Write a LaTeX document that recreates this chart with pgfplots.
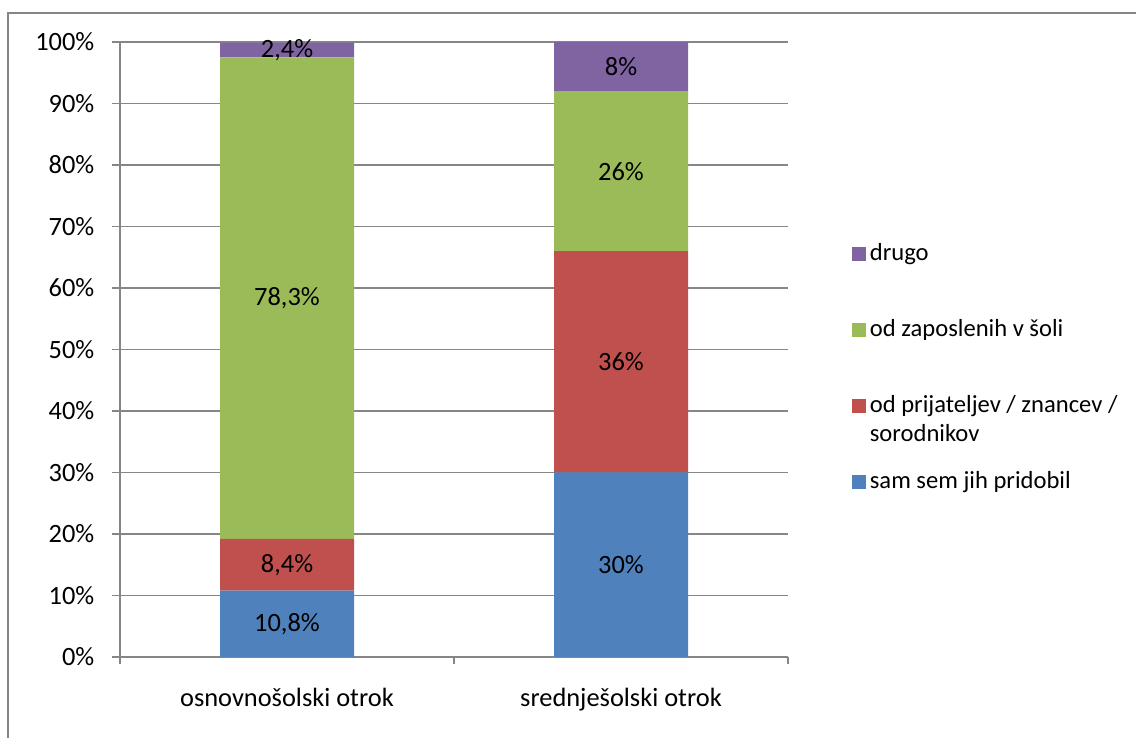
\documentclass[border=0pt]{standalone}
\usepackage{fontspec}
\setmainfont{Carlito}
\usepackage{pgfplots}
\pgfplotsset{compat=1.18}
\definecolor{sBlue}{HTML}{4F81BD}
\definecolor{sRed}{HTML}{C0504D}
\definecolor{sGreen}{HTML}{9BBB59}
\definecolor{sPurple}{HTML}{8064A2}
\definecolor{lineGray}{HTML}{868686}
\newcommand{\chartfont}{\fontsize{13.2pt}{15.5pt}\selectfont}
\newcommand{\legendfont}{\fontsize{12.3pt}{14.5pt}\selectfont}

\begin{document}
\chartfont
\begin{tikzpicture}
\path[use as bounding box] (-60pt,-40.5pt) rectangle (508pt,328.5pt);
% chart frame (only left and top edge visible)
\draw[lineGray, line width=0.75pt] (-56pt,-60pt) -- (-56pt,322pt) -- (540pt,322pt);
\begin{axis}[
  at={(0pt,0pt)}, anchor=south west,
  scale only axis, width=334pt, height=307.5pt,
  ybar stacked, bar width=67pt,
  xmin=-0.5, xmax=1.5, ymin=0, ymax=100,
  axis x line*=bottom, axis y line*=left,
  axis line style={lineGray, line width=0.75pt, -},
  every tick label/.append style={font=\chartfont},
  xtick={-0.5,0.5,1.5}, xticklabels={},
  extra x ticks={0,1},
  extra x tick labels={osnovnošolski otrok, srednješolski otrok},
  extra x tick style={major tick length=0pt, grid=none,
    xticklabel style={anchor=base, yshift=-25pt}},
  ytick={0,10,...,100},
  yticklabels={0\%,10\%,20\%,30\%,40\%,50\%,60\%,70\%,80\%,90\%,100\%},
  yticklabel style={anchor=east, xshift=-4.5pt},
  ymajorgrids, grid style={lineGray, line width=0.75pt},
  tick align=outside, major tick length=3.75pt,
  tick style={lineGray, line width=0.75pt},
  reverse legend,
  legend cell align=left,
  legend image code/.code={\fill[#1] (0pt,-3.5pt) rectangle (7pt,3.5pt);},
  legend style={draw=none, fill=none, inner sep=0pt,
    at={(rel axis cs:1.095,0.47)}, anchor=west, row sep=23.5pt,
    /tikz/every even column/.append style={column sep=2.5pt},
    font=\legendfont},
]
\addplot[fill=sBlue, draw=none] coordinates {(0,10.8) (1,30)};
\addplot[fill=sRed, draw=none] coordinates {(0,8.4) (1,36)};
\addplot[fill=sGreen, draw=none] coordinates {(0,78.3) (1,26)};
\addplot[fill=sPurple, draw=none] coordinates {(0,2.4) (1,8)};
\addlegendentry{sam sem jih pridobil}
\addlegendentry{\vphantom{dp}\smash{\begin{tabular}[t]{@{}l@{}}od prijateljev / znancev /\\ sorodnikov\end{tabular}}}
\addlegendentry{od zaposlenih v šoli}
\addlegendentry{drugo}
\end{axis}
% value labels at the middle of each segment
\begin{axis}[
  at={(0pt,0pt)}, anchor=south west,
  scale only axis, width=334pt, height=307.5pt,
  xmin=-0.5, xmax=1.5, ymin=0, ymax=100, hide axis,
]
\addplot[draw=none, mark=none, nodes near coords, point meta=explicit symbolic,
  nodes near coords style={anchor=center, text=black, font=\chartfont}] coordinates {
  (0,5.4) [10,8\%]
  (0,15.0) [8,4\%]
  (0,58.35) [78,3\%]
  (0,98.7) [2,4\%]
  (1,15) [30\%]
  (1,48) [36\%]
  (1,79) [26\%]
  (1,96) [8\%]
};
\end{axis}
\end{tikzpicture}
\end{document}
